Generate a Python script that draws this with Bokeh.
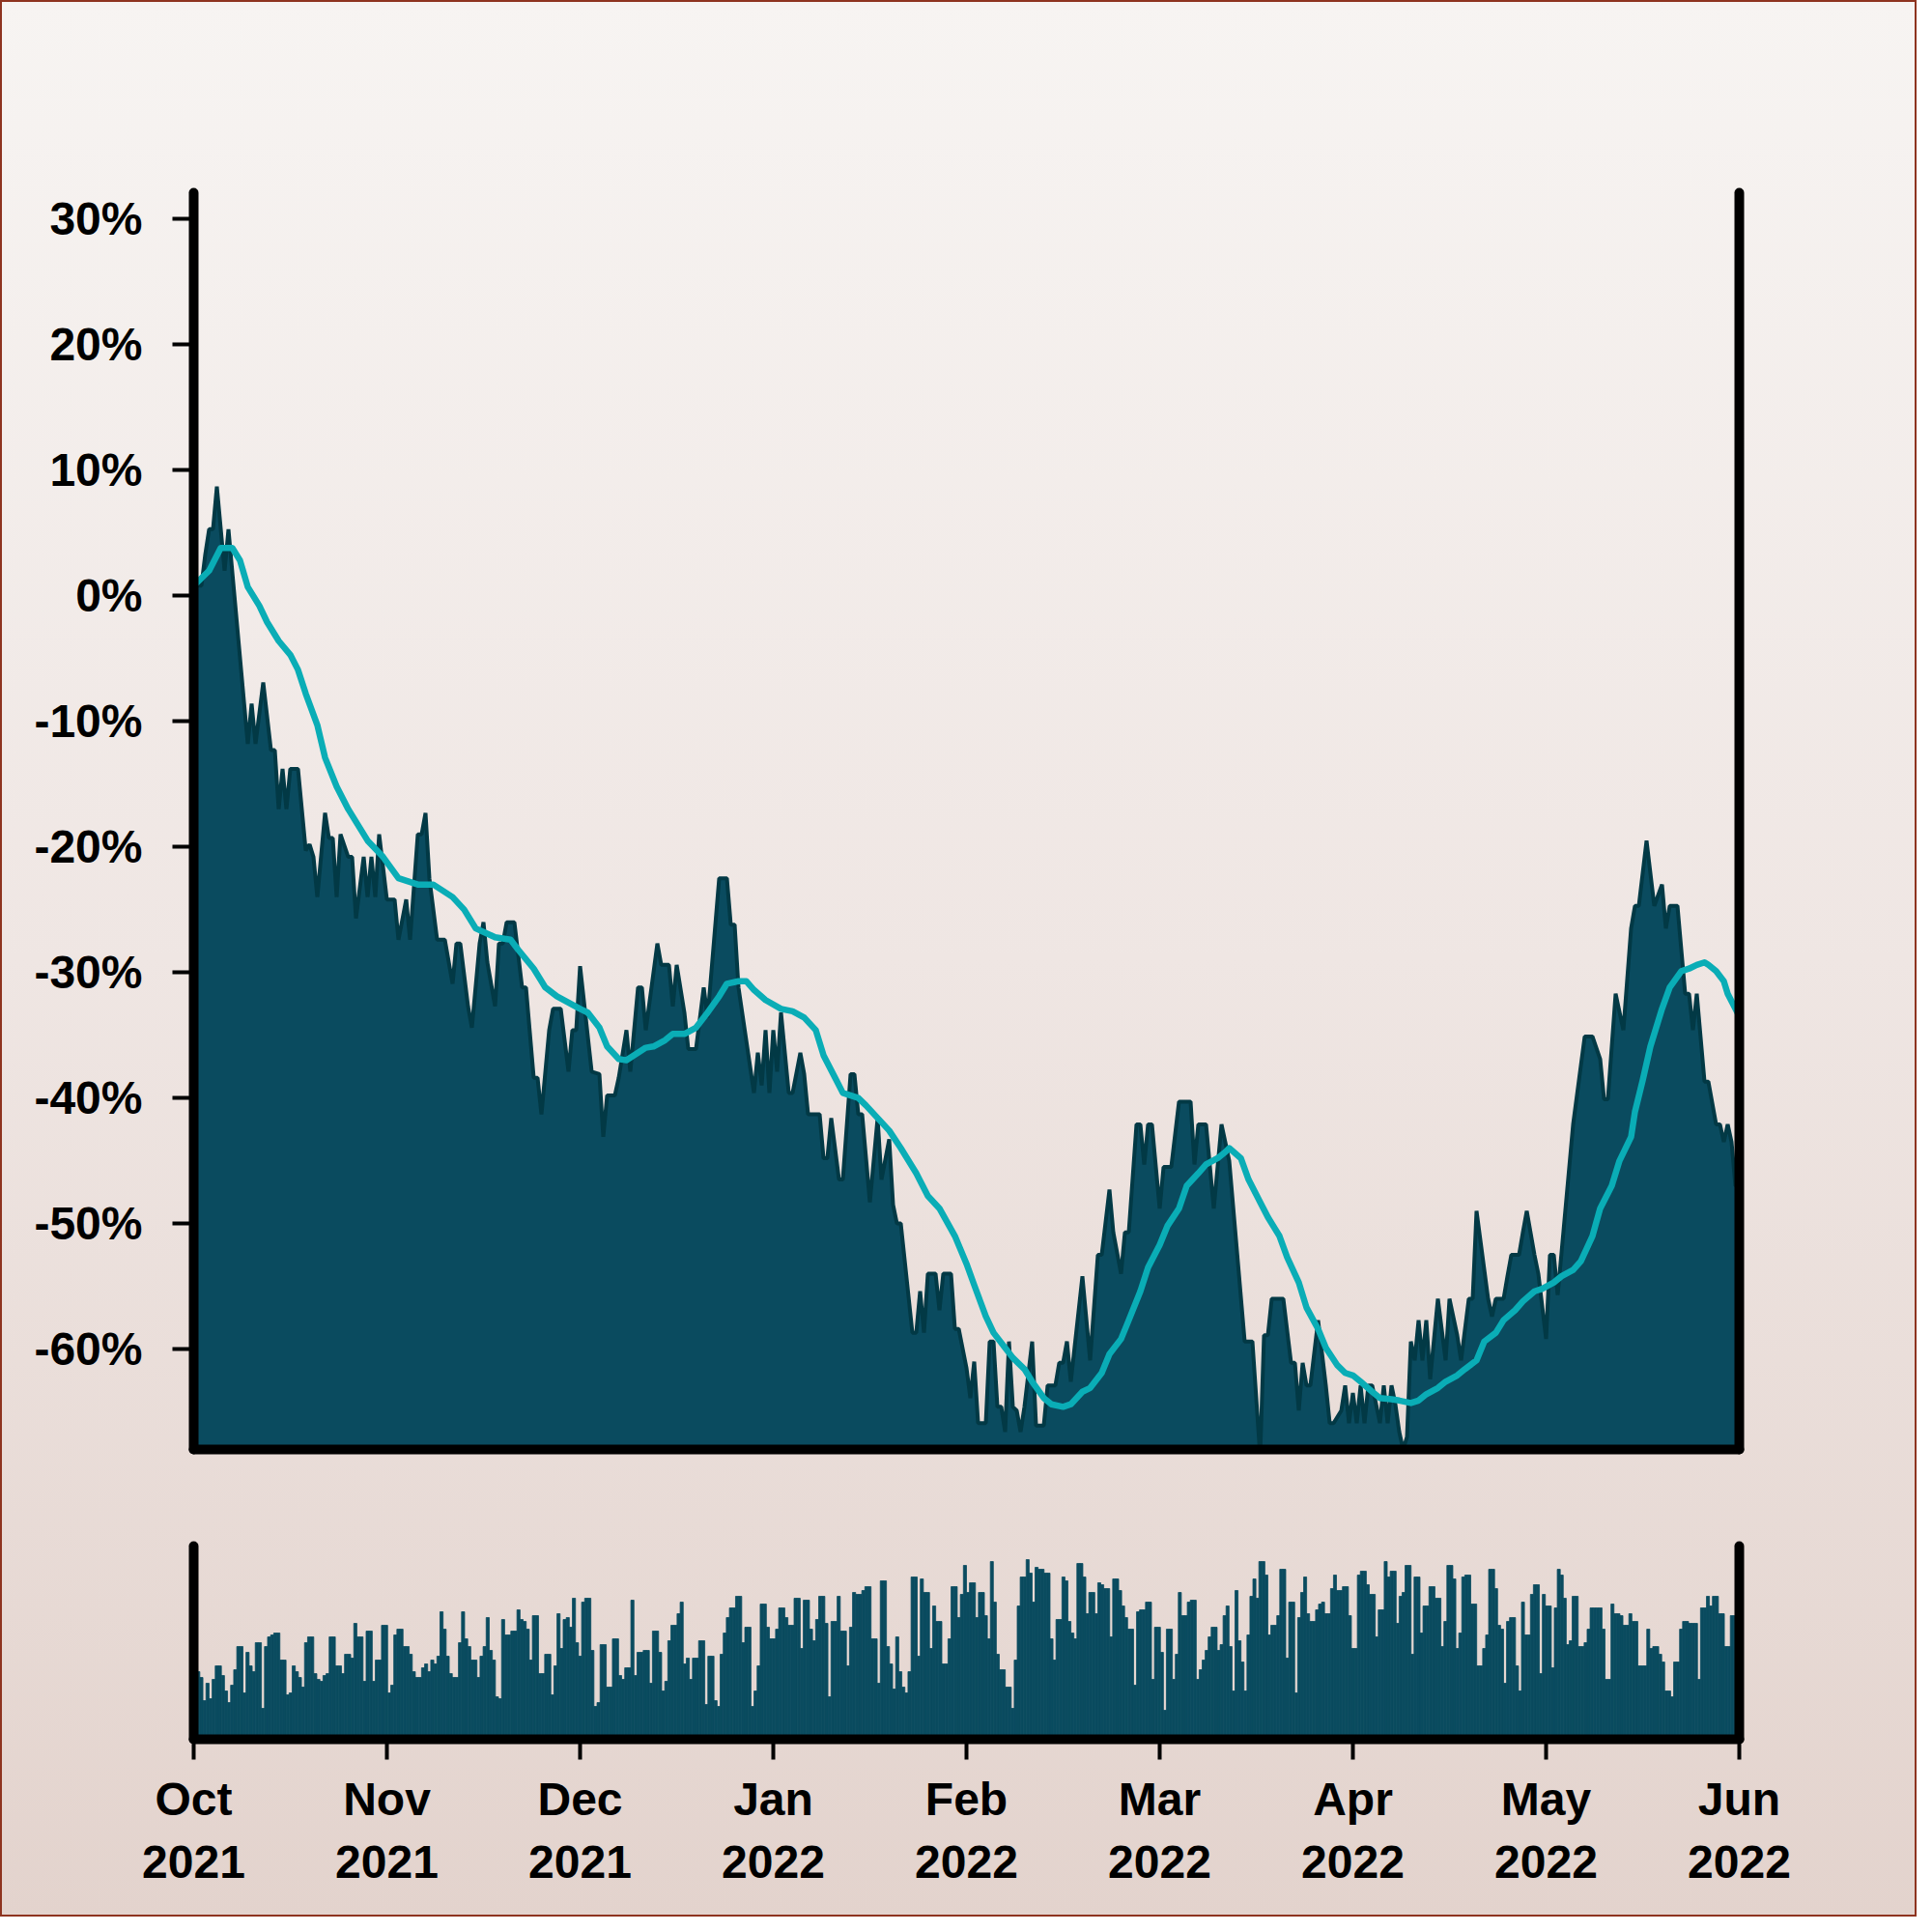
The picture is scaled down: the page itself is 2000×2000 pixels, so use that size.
import numpy as np
from bokeh.plotting import figure
from bokeh.layouts import column
from bokeh.models import Range1d, FixedTicker, LinearAxis
from bokeh.embed import file_html
from bokeh.resources import INLINE

# ---------------- data ----------------
# trading-session index (50 sessions per month, Oct 2021 .. Jun 2022) and % change
session_idx = [0, 2, 3, 4, 5, 6, 8, 9, 14, 15, 16, 18, 20, 21, 22, 23, 24, 25, 27, 29,
               30, 31, 32, 34, 35, 36, 37, 38, 40, 41, 42, 44, 45, 46, 47, 48, 50, 52, 53, 55,
               56, 58, 59, 60, 61, 63, 65, 67, 68, 69, 71, 72, 74, 75, 76, 78, 79, 80, 81, 83,
               85, 86, 88, 89, 90, 92, 93, 95, 97, 98, 99, 100, 103, 105, 106, 107, 109, 110, 112, 113,
               115, 116, 117, 120, 121, 123, 124, 125, 127, 128, 130, 132, 133, 136, 138, 139, 140, 141, 145, 146,
               147, 148, 149, 150, 151, 152, 154, 155, 157, 158, 159, 162, 163, 164, 165, 167, 168, 170, 171, 172,
               173, 175, 177, 178, 180, 181, 182, 183, 186, 187, 188, 189, 190, 192, 193, 194, 196, 197, 198, 200,
               201, 202, 203, 205, 206, 207, 208, 209, 210, 211, 212, 213, 214, 215, 217, 218, 220, 221, 223, 224,
               225, 226, 227, 230, 232, 234, 235, 237, 238, 240, 241, 242, 244, 245, 246, 247, 248, 250, 251, 253,
               255, 258, 259, 260, 262, 264, 266, 268, 272, 274, 276, 277, 278, 279, 282, 284, 285, 286, 287, 288,
               289, 291, 293, 294, 295, 297, 298, 299, 300, 301, 302, 303, 304, 305, 307, 308, 309, 310, 311, 312,
               313, 314, 315, 316, 317, 318, 319, 320, 322, 324, 325, 327, 328, 330, 331, 332, 335, 336, 337, 339,
               340, 341, 343, 344, 345, 347, 348, 350, 351, 352, 353, 357, 360, 362, 364, 365, 366, 368, 370, 372,
               373, 374, 376, 378, 380, 381, 382, 384, 386, 387, 388, 389, 391, 392, 394, 395, 396, 397, 398, 399,
               400]
price_pct = [0.8, 0.8, 3.3, 5.3, 5.3, 8.7, 2.0, 5.3, -11.8, -8.6, -11.8, -6.9, -12.3, -12.3, -17.0, -13.8, -17.0, -13.8, -13.8, -20.3,
             -19.8, -20.8, -24.0, -17.3, -19.3, -19.3, -24.0, -19.0, -20.8, -20.8, -25.7, -20.8, -24.0, -20.8, -24.0, -19.0, -24.2, -24.2, -27.4, -24.2,
             -27.4, -19.0, -19.0, -17.3, -22.5, -27.4, -27.4, -30.9, -27.7, -27.7, -32.7, -34.4, -27.7, -26.0, -29.2, -32.7, -27.7, -27.7, -26.0, -26.0,
             -31.2, -31.2, -38.4, -38.4, -41.3, -34.6, -32.9, -32.9, -37.9, -34.6, -34.6, -29.5, -37.9, -38.1, -43.1, -39.8, -39.8, -38.4, -34.6, -37.9,
             -31.2, -31.2, -34.6, -27.7, -29.4, -29.4, -32.7, -29.4, -33.2, -36.1, -36.1, -31.2, -33.6, -22.5, -22.5, -26.2, -26.2, -31.2, -39.6, -36.4,
             -39.0, -34.6, -39.6, -34.6, -37.9, -33.2, -39.6, -39.6, -36.4, -38.1, -41.3, -41.3, -44.8, -44.8, -41.6, -46.5, -46.5, -38.1, -38.1, -41.3,
             -41.3, -48.3, -41.6, -46.5, -43.3, -48.5, -50.0, -50.0, -58.7, -58.7, -55.4, -58.7, -54.0, -54.0, -56.9, -54.0, -54.0, -58.4, -58.4, -61.5,
             -63.9, -61.0, -65.9, -65.9, -59.4, -59.4, -64.6, -64.6, -66.6, -59.4, -64.6, -64.9, -66.6, -64.6, -59.4, -66.1, -66.1, -62.9, -62.9, -61.1,
             -61.1, -59.4, -62.6, -54.2, -60.9, -52.5, -52.5, -47.3, -50.7, -54.0, -50.7, -50.7, -42.1, -42.1, -45.3, -42.1, -42.1, -48.8, -45.5, -45.5,
             -40.3, -40.3, -45.3, -42.1, -42.1, -48.8, -42.1, -45.0, -59.4, -59.4, -68.5, -58.9, -58.9, -56.0, -56.0, -61.1, -61.1, -64.9, -61.1, -62.9,
             -62.9, -57.7, -62.9, -65.9, -65.9, -64.9, -62.9, -65.9, -63.5, -65.9, -62.9, -65.9, -62.9, -62.9, -65.9, -62.9, -65.9, -62.9, -64.4, -66.6,
             -68.0, -67.0, -59.4, -60.9, -57.7, -60.9, -57.7, -62.4, -56.0, -60.9, -56.0, -58.9, -60.9, -56.0, -56.0, -49.0, -56.0, -57.4, -56.0, -56.0,
             -54.2, -52.5, -52.5, -50.7, -49.0, -52.5, -54.0, -59.2, -52.5, -52.5, -55.7, -42.1, -35.1, -35.1, -36.9, -40.1, -40.1, -31.7, -34.6, -26.5,
             -24.7, -24.7, -19.5, -24.7, -23.0, -26.5, -24.7, -24.7, -31.7, -31.7, -34.6, -31.7, -38.7, -38.7, -42.1, -42.1, -43.5, -42.1, -43.5, -47.0,
             -47.0]

# moving average
ma_idx = [0, 4, 7, 10, 12, 14, 17, 19, 22, 25, 27, 29, 32, 34, 37, 40, 42, 45, 49, 53,
          58, 62, 67, 70, 73, 78, 82, 84, 88, 91, 94, 100, 102, 105, 107, 110, 112, 115, 117, 119,
          122, 124, 127, 130, 133, 136, 138, 141, 143, 145, 148, 152, 155, 158, 161, 163, 166, 168, 172, 174,
          177, 180, 183, 187, 190, 193, 197, 200, 202, 205, 207, 210, 212, 215, 217, 220, 222, 225, 227, 230,
          232, 235, 237, 240, 242, 245, 247, 250, 252, 255, 257, 260, 262, 265, 267, 268, 271, 273, 276, 278,
          281, 283, 286, 288, 291, 293, 296, 298, 300, 302, 305, 307, 310, 312, 315, 317, 319, 322, 324, 327,
          329, 332, 334, 337, 339, 342, 344, 347, 349, 352, 354, 357, 359, 362, 364, 367, 369, 372, 373, 375,
          377, 380, 382, 385, 387, 389, 391, 392, 394, 396, 397, 399, 400]
ma_pct = [0.8, 2.0, 3.8, 3.8, 2.8, 0.7, -0.8, -2.1, -3.6, -4.7, -5.9, -7.8, -10.3, -12.9, -15.2, -17.0, -18.0, -19.5, -20.8, -22.5,
          -23.0, -23.0, -24.0, -25.0, -26.5, -27.2, -27.4, -28.2, -29.7, -31.2, -31.9, -32.9, -33.2, -34.4, -35.9, -36.9, -37.0, -36.4, -36.0, -35.9,
          -35.4, -34.9, -34.9, -34.4, -33.2, -31.9, -30.9, -30.7, -30.7, -31.4, -32.2, -32.9, -33.1, -33.6, -34.6, -36.6, -38.4, -39.6, -40.0, -40.6,
          -41.6, -42.6, -44.0, -46.0, -47.8, -48.8, -51.0, -53.2, -54.9, -57.4, -58.7, -59.9, -60.7, -61.6, -62.6, -63.9, -64.4, -64.6, -64.4, -63.4,
          -63.1, -61.9, -60.4, -59.2, -57.7, -55.4, -53.5, -51.7, -50.2, -48.8, -47.0, -46.0, -45.3, -44.8, -44.3, -44.0, -44.8, -46.5, -48.3, -49.5,
          -51.0, -52.7, -54.7, -56.7, -58.4, -59.9, -61.3, -61.9, -62.1, -62.6, -63.4, -63.9, -64.0, -64.1, -64.3, -64.1, -63.6, -63.1, -62.6, -62.1,
          -61.6, -60.9, -59.4, -58.7, -57.7, -56.9, -56.2, -55.4, -55.2, -54.7, -54.2, -53.7, -53.0, -51.0, -48.8, -47.0, -45.0, -43.1, -41.1, -38.6,
          -35.9, -32.9, -31.2, -29.9, -29.7, -29.4, -29.2, -29.4, -29.9, -30.7, -31.7, -32.9, -33.5]

# relative volume (0-100), Oct-Jan and Feb-May halves
volume_oct_jan = [40, 35, 32, 20, 29, 21, 31, 38, 38, 33, 25, 19, 28, 36, 48, 48, 24, 45, 38, 35, 50, 50, 16, 48, 53, 54, 55, 55, 41, 41,
                  23, 24, 38, 35, 32, 27, 50, 53, 53, 34, 31, 30, 33, 34, 53, 53, 38, 38, 34, 44, 44, 42, 60, 53, 53, 30, 56, 56, 30, 41,
                  41, 59, 59, 24, 28, 54, 57, 57, 48, 48, 44, 35, 32, 32, 37, 39, 35, 41, 39, 43, 66, 57, 43, 34, 32, 32, 50, 66, 52, 48,
                  41, 41, 32, 43, 48, 63, 46, 41, 22, 21, 62, 54, 54, 56, 56, 67, 62, 61, 57, 41, 64, 64, 34, 34, 44, 44, 23, 38, 65, 47,
                  62, 63, 58, 73, 50, 43, 71, 73, 73, 46, 17, 19, 49, 49, 27, 27, 52, 52, 33, 31, 37, 37, 72, 33, 45, 45, 46, 46, 29, 56,
                  56, 45, 25, 30, 51, 59, 59, 65, 71, 39, 42, 31, 42, 42, 51, 51, 18, 43, 43, 20, 17, 44, 55, 63, 68, 68, 74, 74, 50, 58,
                  58, 17, 25, 38, 70, 70, 58, 52, 52, 57, 68, 68, 63, 59, 59, 73, 73, 47, 72, 72, 57, 51, 62, 74, 74, 60, 22, 61, 61, 74,
                  56, 56, 38, 58, 76, 75, 75, 77, 79, 79, 52, 52, 29, 82, 82, 48, 39, 26, 53, 35, 27, 24, 35, 84, 84, 43, 83, 76, 76, 47,
                  69, 61, 61, 39, 39, 52, 79, 79, 63, 75, 90]
volume_feb_may = [76, 81, 81, 63, 76, 76, 64, 52, 92, 71, 44, 36, 36, 27, 27, 16, 41, 69, 84, 84, 93, 86, 71, 89, 88, 88, 86, 86, 52, 41,
                  62, 62, 84, 82, 61, 55, 52, 91, 91, 84, 65, 76, 76, 65, 81, 80, 78, 78, 53, 83, 83, 77, 69, 63, 57, 57, 28, 66, 67, 67,
                  71, 71, 31, 58, 58, 45, 15, 57, 57, 31, 44, 76, 64, 64, 71, 72, 72, 31, 36, 41, 46, 53, 58, 58, 46, 49, 64, 69, 48, 25,
                  77, 51, 40, 25, 54, 74, 83, 73, 92, 92, 85, 54, 59, 59, 64, 88, 88, 42, 71, 71, 24, 63, 76, 84, 65, 61, 61, 67, 70, 71,
                  65, 65, 78, 85, 77, 77, 79, 79, 64, 47, 47, 85, 87, 87, 80, 75, 75, 53, 67, 67, 92, 84, 87, 87, 60, 74, 76, 90, 90, 44,
                  84, 84, 55, 69, 69, 79, 79, 73, 73, 48, 61, 90, 90, 83, 47, 55, 84, 85, 85, 70, 70, 38, 38, 47, 54, 88, 88, 78, 59, 57,
                  29, 61, 63, 63, 38, 25, 71, 54, 54, 75, 80, 80, 34, 75, 69, 69, 37, 68, 88, 85, 73, 49, 51, 74, 74, 48, 48, 50, 57, 68,
                  68, 68, 68, 57, 31, 31, 70, 65, 65, 64, 59, 59, 65, 61, 61, 38, 38, 38, 57, 47, 48, 48, 44, 40, 25, 25, 22, 40, 40, 57,
                  61, 61, 60, 60, 60, 31, 68, 68, 74, 69, 74, 74, 65, 65, 48, 48, 64, 64, 41]

month_ticks = [0, 50, 100, 150, 200, 250, 300, 350, 400]
month_labels = ["Oct\n2021", "Nov\n2021", "Dec\n2021", "Jan\n2022", "Feb\n2022",
                "Mar\n2022", "Apr\n2022", "May\n2022", "Jun\n2022"]
y_ticks = [30, 20, 10, 0, -10, -20, -30, -40, -50, -60]
y_labels = ["30%", "20%", "10%", "0%", "-10%", "-20%", "-30%", "-40%", "-50%", "-60%"]

# ---------------- styling ----------------
FILL = "#0a4b5f"
EDGE = "#023945"
CYAN = "#0aadb6"
FONT = "Liberation Sans"
W = 1984


def style_axis(ax, ticks=None, labels=None):
    ax.axis_line_color = "black"
    ax.axis_line_width = 10
    ax.axis_line_cap = "round"
    ax.minor_tick_line_color = None
    if ticks is None:
        ax.ticker = FixedTicker(ticks=[])
        ax.major_tick_line_color = None
        ax.major_label_text_font_size = "0px"
    else:
        ax.ticker = FixedTicker(ticks=ticks)
        ax.major_label_overrides = dict(zip(ticks, labels))
        ax.major_tick_line_color = "black"
        ax.major_tick_line_width = 4
        ax.major_tick_in = 0
        ax.major_label_text_font = FONT
        ax.major_label_text_font_style = "bold"
        ax.major_label_text_font_size = "48px"
        ax.major_label_text_color = "black"


def base_fig(height, ymin, ymax, top, bottom):
    f = figure(width=W, height=height, output_backend="svg", toolbar_location=None,
               x_range=Range1d(0, 400), y_range=Range1d(ymin, ymax),
               min_border_left=200, min_border_right=184,
               min_border_top=top, min_border_bottom=bottom)
    f.background_fill_color = None
    f.border_fill_color = None
    f.outline_line_color = None
    f.xgrid.visible = False
    f.ygrid.visible = False
    right = LinearAxis()
    f.add_layout(right, "right")
    style_axis(right)
    return f


# ---------------- main price panel ----------------
p = base_fig(1550, -68, 32.1, 199, 50)
p.varea(x=session_idx, y1=-100, y2=price_pct, fill_color=FILL)
p.line(session_idx, price_pct, line_color=EDGE, line_width=4)
p.line(ma_idx, ma_pct, line_color=CYAN, line_width=6.5, line_join="round", line_cap="round")

style_axis(p.xaxis[0])
yax = p.yaxis[0]
style_axis(yax, y_ticks, y_labels)
yax.major_tick_out = 22
yax.major_label_standoff = 31

# ---------------- volume panel ----------------
v = base_fig(434, 0, 100, 50, 184)
na, nb = len(volume_oct_jan), len(volume_feb_may)
xa = (np.arange(na) + 0.5) * 200.0 / na
xb = 200 + (np.arange(nb) + 0.5) * 200.0 / nb
v.vbar(x=xa, top=volume_oct_jan, bottom=0, width=200.0 / na, fill_color=FILL,
       line_color=FILL, line_width=0.8)
v.vbar(x=xb, top=volume_feb_may, bottom=0, width=200.0 / nb, fill_color=FILL,
       line_color=FILL, line_width=0.8)

style_axis(v.yaxis[0])
xax = v.xaxis[0]
style_axis(xax, month_ticks, month_labels)
xax.major_tick_out = 21
xax.major_label_standoff = 14
xax.major_label_text_line_height = 1.23

layout = column(p, v, spacing=0, styles={
    "background": "linear-gradient(180deg, #f7f4f2 0%, #efe6e3 50%, #e3d3cd 100%)",
    "outline": "2px solid #8e3420",
    "outline-offset": "-2px",
})

open("out.html", "w").write(file_html(layout, INLINE))
